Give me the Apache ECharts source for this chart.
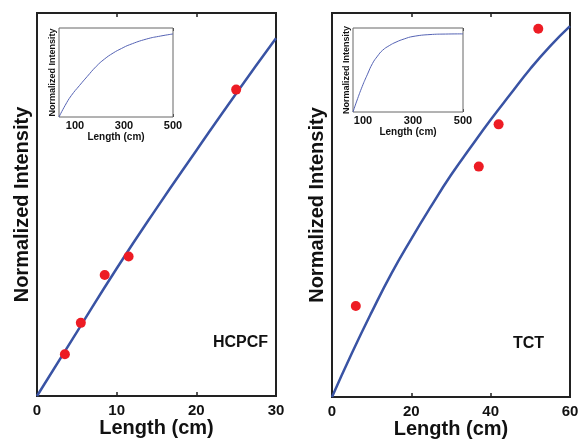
<!DOCTYPE html>
<html><head><meta charset="utf-8">
<script src="https://cdn.jsdelivr.net/npm/echarts@6/dist/echarts.min.js"></script>
<style>html,body{margin:0;padding:0;background:#fff}#c{width:579px;height:440px}</style>
</head><body><div id="c"></div>
<script>
// Left panel (HCPCF)
const hcLineX = [0, 5, 10, 15, 20, 25, 30];
const hcLineY = [0, 0.167, 0.333, 0.49, 0.641, 0.79, 0.934];
const hcPtsX = [3.5, 5.5, 8.5, 11.5, 25];
const hcPtsY = [0.109, 0.191, 0.316, 0.364, 0.80];
const hcTicks = [0, 10, 20, 30];
// Right panel (TCT)
const tcLineX = [0, 5, 10, 15, 20, 25, 30, 35, 40, 45, 50, 55, 60];
const tcLineY = [0, 0.114, 0.221, 0.322, 0.412, 0.497, 0.578, 0.651, 0.722, 0.789, 0.855, 0.914, 0.966];
const tcPtsX = [6, 37, 42, 52];
const tcPtsY = [0.237, 0.60, 0.71, 0.959];
const tcTicks = [0, 20, 40, 60];
// Insets
const inHcX = [35, 60, 85, 119, 150, 187, 220, 256, 290, 323, 392, 450, 500];
const inHcY = [0, 0.13, 0.24, 0.355, 0.455, 0.569, 0.65, 0.719, 0.77, 0.812, 0.876, 0.91, 0.933];
const inTcX = [60, 75, 97, 118, 138, 158, 178, 205, 232, 265, 300, 368, 430, 500];
const inTcY = [0, 0.13, 0.305, 0.45, 0.578, 0.665, 0.734, 0.79, 0.832, 0.87, 0.899, 0.922, 0.928, 0.93];
const inTicks = [100, 300, 500];

const FF = 'Liberation Sans, Arial, sans-serif';
const chart = echarts.init(document.getElementById('c'), null, {renderer: 'canvas'});
const zip = (a, b) => a.map((v, i) => [v, b[i]]);

const grids = [
  {left: 37, top: 13, width: 239, height: 383, show: true, borderColor: '#222', borderWidth: 2, backgroundColor: 'transparent', outerBoundsMode: 'none', containLabel: false},
  {left: 332, top: 13, width: 238, height: 384, show: true, borderColor: '#222', borderWidth: 2, backgroundColor: 'transparent', outerBoundsMode: 'none', containLabel: false},
  {left: 59, top: 28, width: 114, height: 89, show: true, borderColor: '#666', borderWidth: 1, backgroundColor: '#fff', z: 5, outerBoundsMode: 'none', containLabel: false},
  {left: 353, top: 28, width: 110, height: 84, show: true, borderColor: '#666', borderWidth: 1, backgroundColor: '#fff', z: 5, outerBoundsMode: 'none', containLabel: false}
];

function mainX(gi, max, ticks) {
  return [{
    gridIndex: gi, type: 'value', min: 0, max: max, position: 'bottom',
    axisLine: {show: false}, splitLine: {show: false},
    axisTick: {show: true, inside: true, length: 4, lineStyle: {color: '#222', width: 1.5}, customValues: ticks},
    axisLabel: {show: true, customValues: ticks, margin: 7, fontFamily: FF, fontWeight: 'bold', fontSize: 15, color: '#111'},
    name: 'Length (cm)', nameLocation: 'middle', nameGap: 22, nameMoveOverlap: false,
    nameTextStyle: {fontFamily: FF, fontWeight: 'bold', fontSize: 20, color: '#111'}
  }, {
    gridIndex: gi, type: 'value', min: 0, max: max, position: 'top',
    axisLine: {show: false}, splitLine: {show: false}, axisLabel: {show: false},
    axisTick: {show: true, inside: true, length: 4, lineStyle: {color: '#222', width: 1.5}, customValues: ticks}
  }];
}
function insetX(gi, min, gap) {
  return [{
    gridIndex: gi, type: 'value', min: min, max: 500, position: 'bottom',
    axisLine: {show: false}, splitLine: {show: false},
    axisTick: {show: true, inside: true, length: 3, lineStyle: {color: '#444'}, customValues: inTicks},
    axisLabel: {show: true, customValues: inTicks, margin: 3, fontFamily: FF, fontWeight: 'bold', fontSize: 11, color: '#111'},
    name: 'Length (cm)', nameLocation: 'middle', nameGap: gap,
    nameTextStyle: {fontFamily: FF, fontWeight: 'bold', fontSize: 10, color: '#111'}
  }, {
    gridIndex: gi, type: 'value', min: min, max: 500, position: 'top',
    axisLine: {show: false}, splitLine: {show: false}, axisLabel: {show: false},
    axisTick: {show: true, inside: true, length: 3, lineStyle: {color: '#444'}, customValues: inTicks}
  }];
}
function yAx(gi, name, size, gap) {
  return {
    gridIndex: gi, type: 'value', min: 0, max: 1,
    axisLine: {show: false}, axisTick: {show: false}, axisLabel: {show: false}, splitLine: {show: false},
    name: name, nameLocation: 'middle', nameGap: gap,
    nameTextStyle: {fontFamily: FF, fontWeight: 'bold', fontSize: size, color: '#111'}
  };
}

const option = {
  backgroundColor: '#fff',
  animation: false,
  grid: grids,
  xAxis: [...mainX(0, 30, hcTicks), ...mainX(1, 60, tcTicks), ...insetX(2, 35, 14), ...insetX(3, 60, 12)],
  yAxis: [yAx(0, 'Normalized Intensity', 20, 5), yAx(1, 'Normalized Intensity', 20, 5),
          yAx(2, 'Normalized Intensity', 9, 2), yAx(3, 'Normalized Intensity', 9, 2)],
  series: [
    {type: 'line', xAxisIndex: 0, yAxisIndex: 0, data: zip(hcLineX, hcLineY), smooth: true, showSymbol: false,
     lineStyle: {color: '#3953a4', width: 2.5}},
    {type: 'scatter', xAxisIndex: 0, yAxisIndex: 0, data: zip(hcPtsX, hcPtsY), symbolSize: 10,
     itemStyle: {color: '#ed1c24', opacity: 1}, z: 3},
    {type: 'line', xAxisIndex: 2, yAxisIndex: 1, data: zip(tcLineX, tcLineY), smooth: true, showSymbol: false,
     lineStyle: {color: '#3953a4', width: 2.5}},
    {type: 'scatter', xAxisIndex: 2, yAxisIndex: 1, data: zip(tcPtsX, tcPtsY), symbolSize: 10,
     itemStyle: {color: '#ed1c24', opacity: 1}, z: 3},
    {type: 'line', xAxisIndex: 4, yAxisIndex: 2, data: zip(inHcX, inHcY), smooth: true, showSymbol: false,
     lineStyle: {color: '#5563b4', width: 1}, z: 6},
    {type: 'line', xAxisIndex: 6, yAxisIndex: 3, data: zip(inTcX, inTcY), smooth: true, showSymbol: false,
     lineStyle: {color: '#5563b4', width: 1}, z: 6}
  ],
  graphic: [
    {type: 'text', left: 213, top: 335, style: {text: 'HCPCF', fontFamily: FF, fontWeight: 'bold', fontSize: 16, fill: '#111'}},
    {type: 'text', left: 513, top: 336, style: {text: 'TCT', fontFamily: FF, fontWeight: 'bold', fontSize: 16, fill: '#111'}}
  ]
};
chart.setOption(option);
</script></body></html>
